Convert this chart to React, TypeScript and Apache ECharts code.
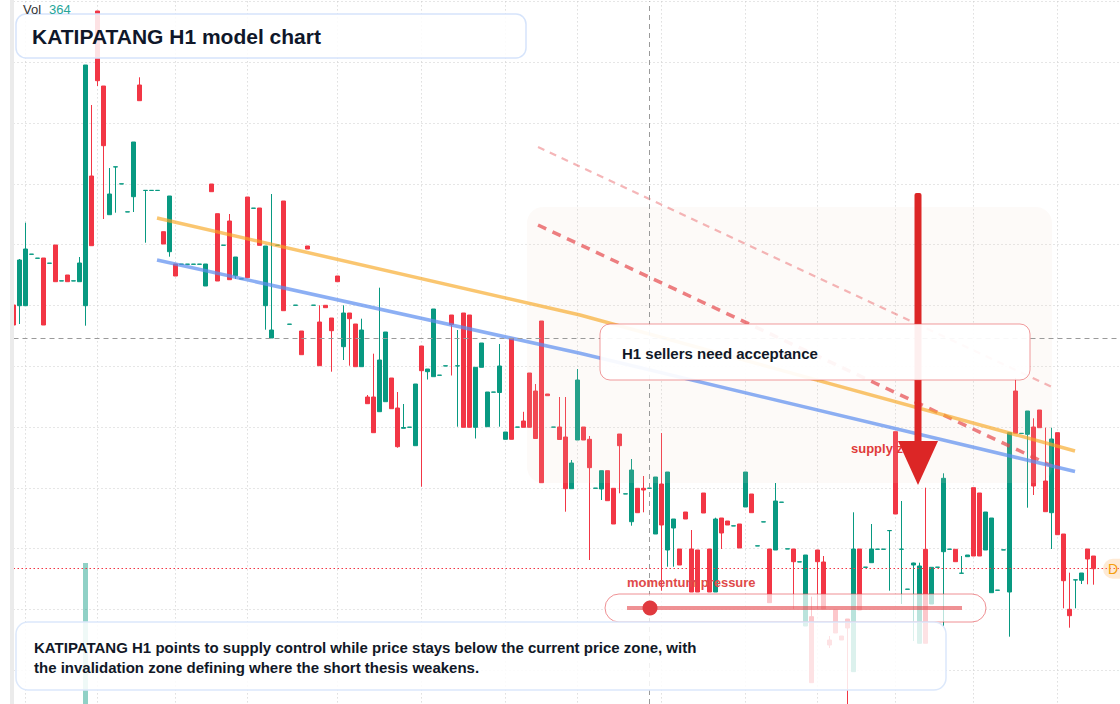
import React, { useEffect, useRef } from "react";
import * as echarts from "echarts";

// ---- data (prices) ----
const dayStarts = [2, 14, 27, 39, 54, 68, 82, 94, 108, 122, 134, 147, 160, 174];
const futureSlots = 5;

const opens = [
  42.6, 42.53, 42.53, 47.67, 47.27, 47.3, 46.77, 48.6, 45.0, 45.6,
  45.0, 44.93, 42.53, 55.5, 72.0, 64.5, 51.63, 56.4, 54.7, 51.9,
  53.43, 64.6, 54.05, 54.05, 54.05, 49.93, 47.93, 46.7, 46.67, 46.67,
  46.67, 46.67, 44.5, 54.7, 51.73, 48.57, 51.0, 45.53, 45.2, 53.4,
  52.27, 52.3, 42.53, 39.3, 48.57, 53.0, 40.67, 42.57, 40.0, 48.5,
  42.57, 40.9, 42.57, 41.3, 45.5, 38.43, 41.8, 40.7, 36.43, 33.4,
  33.4, 31.93, 32.93, 35.3, 32.3, 30.27, 30.37, 28.53, 38.5, 35.93,
  35.43, 35.57, 36.5, 41.6, 36.5, 41.8, 41.6, 30.37, 36.37, 30.43,
  33.88, 33.85, 29.17, 39.27, 30.38, 31.0, 35.8, 34.0, 41.0, 33.7,
  30.38, 30.4, 29.4, 24.23, 29.1, 30.4, 29.17, 24.27, 24.2, 26.03,
  24.27, 29.7, 23.7, 20.93, 24.27, 24.27, 24.27, 19.7, 24.7, 18.1,
  20.3, 18.2, 21.9, 18.2, 18.1, 23.8, 18.2, 13.9, 21.3, 21.0,
  20.5, 20.7, 22.4, 23.7, 18.5, 20.9, 18.2, 18.1, 22.87, 18.2,
  18.2, 16.9, 10.5, 11.43, 18.1, 16.9, 9.1, 12.1, 9.5, 11.2,
  5.93, 18.2, 16.37, 16.83, 18.17, 18.17, 20.03, 29.93, 18.17, 14.17,
  16.6, 8.77, 18.17, 12.7, 16.37, 17.93, 18.17, 18.17, 15.77, 17.43,
  24.33, 23.8, 18.1, 13.83, 14.07, 18.1, 13.9, 34.0, 29.75, 29.67,
  30.4, 32.1, 25.0, 21.83, 29.83, 19.7, 12.17, 15.1, 15.07, 18.2,
  17.5,
];
const closes = [
  40.6, 47.1, 48.2, 47.69, 47.29, 40.6, 46.79, 44.93, 45.02, 44.93,
  45.02, 46.8, 66.6, 48.53, 65.03, 58.53, 53.7, 56.42, 54.72, 51.92,
  58.9, 63.03, 54.07, 54.07, 54.07, 48.7, 53.5, 45.5, 46.69, 46.69,
  46.69, 46.69, 46.7, 53.93, 45.0, 48.59, 45.13, 47.4, 45.22, 45.33,
  52.29, 48.57, 48.5, 40.1, 48.59, 42.03, 40.69, 42.59, 37.63, 48.2,
  42.59, 36.53, 42.33, 40.03, 44.93, 41.8, 41.23, 36.43, 40.1, 32.73,
  29.83, 37.1, 39.9, 32.23, 28.43, 30.35, 30.39, 34.7, 36.03, 36.2,
  42.2, 35.59, 36.52, 40.65, 36.52, 30.37, 30.37, 36.37, 38.8, 33.9,
  33.9, 36.5, 29.9, 29.17, 30.4, 30.37, 30.37, 29.25, 24.83, 33.53,
  30.4, 29.15, 24.23, 26.8, 35.1, 29.1, 26.33, 24.29, 26.03, 23.03,
  20.7, 28.53, 23.72, 26.1, 21.83, 24.1, 24.29, 25.4, 20.6, 25.9,
  21.2, 16.6, 21.2, 13.9, 13.9, 21.8, 13.9, 21.2, 19.8, 20.6,
  20.52, 18.3, 25.9, 21.83, 18.52, 20.92, 12.83, 23.0, 22.89, 18.22,
  16.93, 16.92, 17.6, 4.83, 16.93, 12.2, 8.6, 9.8, 9.1, 10.3,
  18.2, 12.1, 16.39, 18.2, 18.19, 18.19, 20.05, 21.7, 18.19, 14.19,
  16.8, 16.5, 8.77, 16.37, 16.39, 25.27, 18.19, 16.93, 15.79, 17.6,
  17.5, 17.5, 21.9, 21.3, 14.09, 18.12, 29.83, 29.77, 29.77, 32.0,
  24.5, 30.33, 21.93, 29.2, 19.63, 15.03, 11.53, 15.12, 15.8, 17.2,
  16.23,
];
const highs = [
  42.6, 47.2, 50.83, 47.69, 47.29, 47.3, 46.79, 48.6, 45.02, 45.6,
  45.02, 47.4, 66.6, 62.6, 72.0, 64.5, 56.3, 56.42, 54.72, 51.92,
  58.9, 65.37, 54.07, 54.07, 54.07, 49.93, 53.5, 46.7, 46.69, 46.69,
  46.69, 46.69, 46.7, 54.7, 51.73, 48.59, 51.7, 47.4, 45.22, 53.4,
  52.29, 52.3, 48.5, 53.7, 48.59, 53.0, 40.69, 42.59, 40.0, 48.5,
  42.59, 42.57, 42.57, 41.3, 45.5, 42.57, 41.8, 40.7, 41.23, 33.6,
  37.73, 44.33, 39.9, 35.3, 33.9, 32.7, 30.39, 34.7, 38.5, 36.2,
  42.2, 35.59, 36.52, 41.6, 40.1, 41.8, 41.6, 36.37, 38.8, 33.9,
  33.9, 38.7, 29.9, 39.27, 30.4, 31.92, 35.8, 34.7, 41.0, 33.7,
  30.4, 33.4, 33.4, 27.1, 36.2, 30.4, 29.5, 24.29, 26.03, 26.03,
  24.27, 29.7, 23.72, 27.2, 24.27, 25.5, 24.29, 25.4, 29.8, 25.9,
  21.2, 18.2, 21.9, 20.1, 18.1, 23.8, 18.2, 21.33, 21.3, 21.0,
  20.52, 20.7, 25.9, 23.7, 18.52, 20.92, 18.2, 24.8, 22.89, 18.22,
  18.2, 16.92, 17.6, 13.43, 18.1, 17.5, 9.5, 12.1, 9.5, 11.2,
  21.87, 18.2, 16.39, 20.7, 18.19, 18.19, 20.05, 29.93, 23.0, 14.19,
  16.83, 16.83, 24.33, 16.37, 16.39, 25.77, 18.19, 18.17, 17.5, 17.6,
  24.33, 23.8, 21.9, 21.3, 14.09, 18.12, 29.83, 35.3, 29.77, 32.0,
  31.27, 32.1, 30.33, 30.33, 29.83, 19.7, 15.83, 15.12, 15.8, 18.2,
  17.5,
];
const lows = [
  40.6, 40.7, 42.53, 47.67, 47.27, 40.6, 46.77, 44.93, 45.0, 44.93,
  45.0, 44.93, 40.53, 48.53, 64.5, 51.2, 51.63, 51.83, 54.7, 51.9,
  51.9, 63.03, 48.83, 54.05, 54.05, 48.7, 47.43, 45.5, 46.67, 46.67,
  46.67, 46.67, 44.5, 53.93, 45.0, 48.57, 45.13, 45.2, 45.2, 45.33,
  52.27, 48.57, 40.13, 39.3, 48.57, 42.03, 40.67, 42.57, 37.63, 48.2,
  42.57, 36.53, 42.33, 35.93, 44.93, 37.1, 36.53, 36.43, 36.43, 32.73,
  29.83, 31.93, 32.93, 32.23, 28.33, 30.27, 30.37, 28.53, 24.43, 35.15,
  35.43, 35.57, 36.5, 35.55, 30.43, 30.37, 30.37, 29.25, 36.37, 30.43,
  33.88, 30.43, 29.17, 29.17, 30.38, 30.37, 30.37, 29.25, 24.83, 33.53,
  30.38, 29.15, 21.93, 24.23, 29.1, 29.1, 17.1, 24.27, 23.1, 23.03,
  20.7, 23.77, 23.7, 20.53, 21.83, 21.87, 24.27, 19.7, 14.03, 16.43,
  16.43, 16.6, 21.2, 13.9, 13.9, 21.8, 13.9, 13.9, 18.2, 20.6,
  20.5, 18.3, 22.4, 21.83, 18.5, 20.9, 12.83, 18.1, 22.87, 18.2,
  12.2, 16.9, 10.5, 4.83, 12.2, 12.2, 8.3, 9.8, 9.1, 2.5,
  5.93, 12.1, 16.37, 16.83, 18.17, 18.17, 14.03, 21.7, 12.7, 14.17,
  9.0, 8.77, 8.77, 12.7, 16.37, 10.43, 18.17, 16.93, 15.77, 17.43,
  17.5, 17.5, 18.1, 13.83, 14.07, 18.1, 9.43, 29.77, 29.75, 22.33,
  23.6, 30.33, 21.93, 18.2, 19.63, 12.27, 10.33, 12.27, 14.7, 14.67,
  14.63,
];
const volumes = [
  420, 380, 510, 160, 140, 620, 120, 450, 130, 260,
  110, 300, 5200, 600, 550, 500, 540, 260, 150, 140,
  720, 410, 230, 120, 110, 260, 640, 280, 90, 80,
  85, 95, 330, 240, 760, 120, 690, 310, 110, 700,
  130, 470, 690, 380, 120, 600, 140, 150, 360, 110,
  130, 520, 160, 290, 140, 460, 250, 480, 440, 210,
  520, 730, 690, 380, 470, 180, 120, 650, 560, 150,
  680, 120, 110, 260, 300, 520, 500, 580, 310, 420,
  140, 380, 170, 700, 120, 190, 540, 450, 650, 130,
  110, 280, 620, 340, 670, 250, 470, 120, 300, 380,
  410, 260, 110, 560, 350, 240, 364, 620, 720, 690,
  310, 280, 150, 520, 500, 270, 520, 610, 290, 140,
  110, 330, 380, 300, 120, 130, 560, 520, 110, 120,
  340, 110, 690, 650, 320, 500, 150, 120, 140, 160,
  700, 600, 110, 260, 100, 100, 290, 730, 300, 110,
  420, 560, 700, 350, 110, 700, 100, 130, 260, 180,
  130, 600, 590, 350, 600, 110, 120, 650, 520, 120,
  540, 600, 250, 460, 600, 700, 600, 240, 170, 150,
  280,
];
const volumeMax = 5200;
const crosshairIndex = 106;
const crosshairPrice = 39.27;

// annotations in data coordinates: [bar position, price]
const orangeTrend = [[23.92, 51.3], [94.42, 41.6], [176.92, 28.0]];
const blueTrend = [[23.92, 47.1], [94.42, 37.77], [176.92, 25.95]];
const dashedUpper = [[87.42, 58.4], [173.08, 34.4]];
const dashedLower = [[87.42, 50.6], [173.08, 26.5]];
const supplyZone = { x0: 85.58, x1: 173.08, top: 52.4, bottom: 24.8 };
const arrowSpec = { x: 150.75, top: 53.8, headBase: 29.0, tip: 24.6 };
const supplyLabelPos = [139.58, 28.3];

const titleText = "KATIPATANG H1 model chart";
const calloutText = "H1 sellers need acceptance";
const summaryLines = [
  "KATIPATANG H1 points to supply control while price stays below the current price zone, with",
  "the invalidation zone defining where the short thesis weakens.",
];

const UP = "#089981";
const DOWN = "#f23645";
const FONT = '"Liberation Sans", Arial, Helvetica, sans-serif';

// canvas is a little larger than the window; the overflow is hidden
const CANVAS_W = 1130;
const CANVAS_H = 740;

const categories: string[] = [];
for (let i = 0; i < opens.length + futureSlots; i++) {
  let d = 0;
  while (d < dayStarts.length && dayStarts[d] <= i) d++;
  const start = d === 0 ? dayStarts[0] - 13 : dayStarts[d - 1];
  const hour = 9 + (i - start);
  categories.push(`D${d} ${String(hour).padStart(2, "0")}:00`);
}

export default function App() {
  const ref = useRef<HTMLDivElement>(null);
  useEffect(() => {
    document.body.style.margin = "0";
    document.body.style.overflow = "hidden";
    document.documentElement.style.overflow = "hidden";
    const chart = echarts.init(ref.current!, null, { renderer: "svg" });

    const candleData = opens.map((o, i) => {
      const c = closes[i];
      return [o, c, Math.min(lows[i], o, c), Math.max(highs[i], o, c)];
    });
    const volData = volumes.map((v, i) => ({
      value: v,
      itemStyle: {
        color: closes[i] >= opens[i] ? "rgba(8,153,129,0.45)" : "rgba(242,54,69,0.45)",
      },
    }));

    const gridLine = { color: "#cccccc", type: [1, 3], width: 1 };
    const trend = (data: number[][], color: string, width: number, opacity: number, type: any) => ({
      type: "line",
      xAxisIndex: 2,
      yAxisIndex: 0,
      data,
      symbol: "none",
      silent: true,
      z: 4,
      lineStyle: { color, width, opacity, type },
    });

    const gridLeft = 13.5;
    const gridRight = CANVAS_W - 1123.5;
    const gridBottom = CANVAS_H - 731;

    chart.setOption({
      animation: false,
      backgroundColor: "#ffffff",
      grid: [
        { left: gridLeft, right: gridRight, top: 1.4, bottom: gridBottom },
        { left: gridLeft, right: gridRight, top: 563, bottom: gridBottom },
      ],
      xAxis: [
        {
          type: "category",
          gridIndex: 0,
          data: categories,
          boundaryGap: false,
          axisLine: { show: false },
          axisTick: { show: false },
          axisLabel: { show: false },
          splitLine: {
            show: true,
            interval: (i: number) => dayStarts.includes(i),
            lineStyle: gridLine,
          },
        },
        { type: "category", gridIndex: 1, data: categories, boundaryGap: false, show: false },
        { type: "value", gridIndex: 0, min: 0, max: categories.length - 1, show: false },
      ],
      yAxis: [
        {
          type: "value",
          gridIndex: 0,
          min: 0,
          max: 72.96,
          interval: 6.08,
          axisLine: { show: false },
          axisTick: { show: false },
          axisLabel: { show: false },
          splitLine: { show: true, lineStyle: gridLine },
        },
        { type: "value", gridIndex: 1, min: 0, max: volumeMax, show: false, splitLine: { show: false } },
      ],
      series: [
        {
          type: "bar",
          xAxisIndex: 1,
          yAxisIndex: 1,
          data: volData,
          barWidth: 5,
          silent: true,
          z: 1,
        },
        {
          type: "candlestick",
          xAxisIndex: 0,
          yAxisIndex: 0,
          data: candleData,
          barWidth: 4,
          silent: true,
          z: 2,
          itemStyle: {
            color: UP,
            color0: DOWN,
            borderColor: UP,
            borderColor0: DOWN,
            borderWidth: 1,
          },
          markLine: {
            silent: true,
            symbol: ["none", "none"],
            label: { show: false },
            animation: false,
            data: [
              { xAxis: categories[crosshairIndex], lineStyle: { color: "#9a9a9a", type: [5, 4], width: 1 } },
              { yAxis: crosshairPrice, lineStyle: { color: "#9a9a9a", type: [5, 4], width: 1 } },
              { yAxis: closes[closes.length - 1], lineStyle: { color: "#f23645", type: [1.5, 2.5], width: 1 } },
            ],
          },
        },
        trend(dashedUpper, "#e5484d", 2.2, 0.4, [7, 6]),
        trend(dashedLower, "#e5484d", 3.5, 0.7, [9, 7]),
        trend(orangeTrend, "#f7a823", 3.5, 0.65, "solid"),
        trend(blueTrend, "#5b8def", 3.5, 0.7, "solid"),
      ],
    });

    const px = (x: number, y: number) =>
      chart.convertToPixel({ xAxisIndex: 2, yAxisIndex: 0 }, [x, y]) as number[];

    const z0 = px(supplyZone.x0, supplyZone.top);
    const z1 = px(supplyZone.x1, supplyZone.bottom);
    const aTop = px(arrowSpec.x, arrowSpec.top);
    const aBase = px(arrowSpec.x, arrowSpec.headBase);
    const aTip = px(arrowSpec.x, arrowSpec.tip);
    const sLab = px(supplyLabelPos[0], supplyLabelPos[1]);
    const lastY = px(0, closes[closes.length - 1])[1];

    const txt = (x: number, y: number, text: string, font: string, fill: string, z: number) => ({
      type: "text",
      x,
      y,
      z,
      silent: true,
      style: { text, font, fill, verticalAlign: "middle", textVerticalAlign: "middle", align: "left" },
    });

    chart.setOption({
      graphic: [
        { type: "rect", z: 20, silent: true, shape: { x: 10, y: 0, width: 4, height: CANVAS_H }, style: { fill: "#ebebeb" } },
        {
          type: "rect",
          z: 3,
          silent: true,
          shape: { x: z0[0], y: z0[1], width: z1[0] - z0[0], height: z1[1] - z0[1], r: 16 },
          style: { fill: "rgba(240,215,200,0.12)" },
        },
        txt(sLab[0], sLab[1], "supply zone", `bold 13px ${FONT}`, "#e03a3a", 6),
        {
          type: "rect",
          z: 7,
          silent: true,
          shape: { x: aTop[0] - 3.5, y: aTop[1], width: 7, height: aBase[1] - aTop[1] + 2, r: 2 },
          style: { fill: "#dc2626" },
        },
        {
          type: "polygon",
          z: 7,
          silent: true,
          shape: { points: [[aBase[0] - 20, aBase[1]], [aBase[0] + 20, aBase[1]], [aTip[0], aTip[1]]] },
          style: { fill: "#dc2626" },
        },
        // callout box
        {
          type: "rect",
          z: 10,
          silent: true,
          shape: { x: 600, y: 324, width: 430, height: 56, r: 10 },
          style: { fill: "rgba(255,255,255,0.93)", stroke: "rgba(229,72,77,0.55)", lineWidth: 1 },
        },
        txt(622, 353.5, calloutText, `bold 15px ${FONT}`, "#111827", 11),
        // momentum pill
        {
          type: "rect",
          z: 10,
          silent: true,
          shape: { x: 605, y: 594, width: 381, height: 28, r: 14 },
          style: { fill: "rgba(255,255,255,0.72)", stroke: "rgba(229,72,77,0.6)", lineWidth: 1 },
        },
        {
          type: "line",
          z: 11,
          silent: true,
          shape: { x1: 627, y1: 608, x2: 962, y2: 608 },
          style: { stroke: "rgba(229,72,77,0.6)", lineWidth: 4 },
        },
        { type: "circle", z: 12, silent: true, shape: { cx: 650, cy: 608, r: 7.5 }, style: { fill: "#e0393e" } },
        txt(627, 582, "momentum pressure", `bold 13px ${FONT}`, "#e04a4a", 11),
        // summary box
        {
          type: "rect",
          z: 10,
          silent: true,
          shape: { x: 16, y: 622, width: 930, height: 68, r: 12 },
          style: { fill: "rgba(255,255,255,0.86)", stroke: "#dce8fb", lineWidth: 1.5 },
        },
        txt(34, 647, summaryLines[0], `bold 15px ${FONT}`, "#111827", 11),
        txt(34, 667, summaryLines[1], `bold 15px ${FONT}`, "#111827", 11),
        // title box
        {
          type: "rect",
          z: 10,
          silent: true,
          shape: { x: 16, y: 14, width: 510, height: 44, r: 10 },
          style: { fill: "rgba(255,255,255,0.86)", stroke: "#d6e4fb", lineWidth: 1.5 },
        },
        txt(32, 36, titleText, `bold 21px ${FONT}`, "#0f172a", 11),
        txt(23, 9, "Vol", `13px ${FONT}`, "#333333", 11),
        txt(49, 9, String(volumes[crosshairIndex]), `13px ${FONT}`, "#26a69a", 11),
        // last price tag (clipped at the right edge)
        {
          type: "rect",
          z: 10,
          silent: true,
          shape: { x: 1103, y: lastY - 10, width: 60, height: 20, r: 10 },
          style: { fill: "rgba(253,186,116,0.3)" },
        },
        txt(1108, lastY, "D", `14px ${FONT}`, "#f59e0b", 11),
      ],
    });

    return () => chart.dispose();
  }, []);
  return <div ref={ref} style={{ width: CANVAS_W, height: CANVAS_H }} />;
}
